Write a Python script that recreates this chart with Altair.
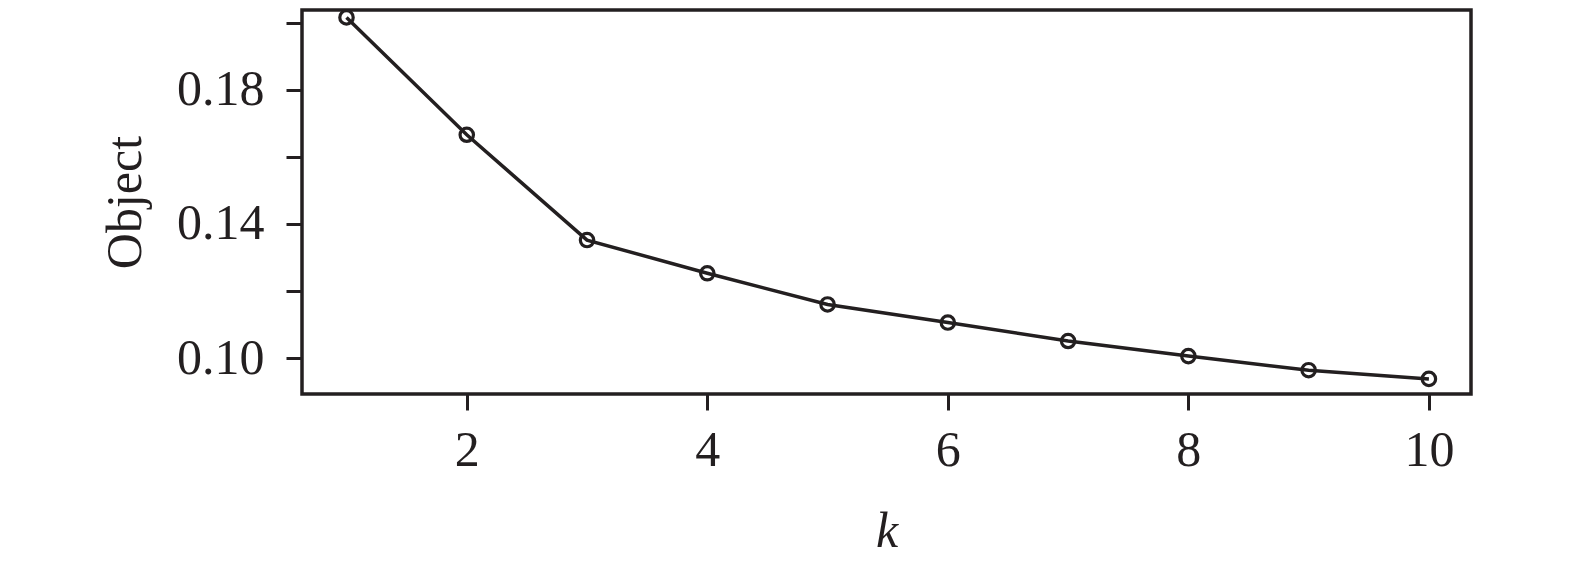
import altair as alt
import pandas as pd

k_values = [1, 2, 3, 4, 5, 6, 7, 8, 9, 10]
objective = [0.2016, 0.1666, 0.1352, 0.1253, 0.1160, 0.1106, 0.1051, 0.1006, 0.0964, 0.0938]
x_ticks = [2, 4, 6, 8, 10]
y_ticks = [0.10, 0.12, 0.14, 0.16, 0.18, 0.20]
y_labeled = ["0.10", "0.14", "0.18"]

df = pd.DataFrame({"k": k_values, "obj": objective})

INK = "#231f20"
FONT = "Liberation Serif, Times New Roman, serif"

x = alt.X("k:Q", scale=alt.Scale(domain=[0.63, 10.35], nice=False, zero=False),
          axis=alt.Axis(values=x_ticks, title="k", titleFontStyle="italic",
                        titleFontWeight="normal", titleFontSize=50, titleFont=FONT,
                        titleColor=INK, titlePadding=31,
                        labelFontSize=50, labelFont=FONT, labelColor=INK,
                        labelPadding=15, tickSize=16, tickWidth=3, tickColor=INK,
                        domain=False, grid=False, labelFlush=False))
y = alt.Y("obj:Q", scale=alt.Scale(domain=[0.0893, 0.2038], nice=False, zero=False),
          axis=alt.Axis(values=y_ticks, title="Object", titleFontWeight="normal",
                        titleFontSize=50, titleFont=FONT, titleColor=INK,
                        titlePadding=26,
                        labelExpr="indexof(" + str(y_labeled) + ", format(datum.value, '.2f')) >= 0 ? format(datum.value, '.2f') : ''",
                        labelFontSize=50, labelFont=FONT, labelColor=INK,
                        labelPadding=22, tickSize=16, tickWidth=3, tickColor=INK,
                        domain=False, grid=False, labelFlush=False))

line = alt.Chart(df).mark_line(color=INK, strokeWidth=3.5).encode(x=x, y=y)
pts = alt.Chart(df).mark_point(shape="circle", filled=False, color=INK,
                               strokeWidth=3.2, size=180, opacity=1).encode(x=x, y=y)

chart = (line + pts).properties(
    width=1169, height=384,
    autosize=alt.AutoSizeParams(type="none"),
    padding={"left": 294, "top": 2, "right": 96, "bottom": 170},
    background="white",
).configure_view(stroke=INK, strokeWidth=3.5)

chart.save("out.html", embed_options={"renderer": "svg", "actions": False})
